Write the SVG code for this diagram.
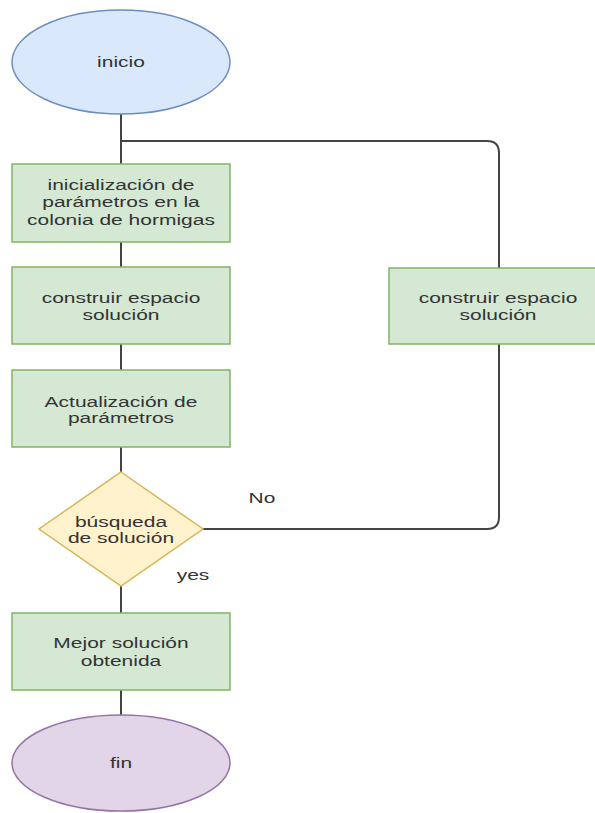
<svg xmlns="http://www.w3.org/2000/svg" width="595" height="813" viewBox="0 0 595 813">
<style>
.t{font-family:"Liberation Sans",Arial,sans-serif;font-size:15px;fill:#333;text-anchor:middle}
.box{fill:#d5e8d4;stroke:#82b366;stroke-width:1.5}
.c{fill:none;stroke:#444;stroke-width:2}
</style>
<rect width="595" height="813" fill="#fff"/>
<g id="connectors">
<path class="c" d="M121 113V164M121 242V267M121 344V370M121 447V472M121 585V613M121 690V715"/>
<path class="c" d="M121 141H487Q499 141 499 153V268"/>
<path class="c" d="M499 344V517Q499 529 487 529H203"/>
<text class="t" transform="translate(262 503) scale(1.4 1)">No</text>
<text class="t" transform="translate(193 580) scale(1.4 1)">yes</text>
</g>
<g id="inicio">
<ellipse cx="121" cy="62" rx="109" ry="52" fill="#dae8fc" stroke="#6c8ebf" stroke-width="1.5"/>
<text class="t" transform="translate(121 67) scale(1.4 1)">inicio</text>
</g>
<g id="init">
<rect class="box" x="12" y="164" width="218" height="78"/>
<text class="t" transform="translate(121 190) scale(1.4 1)">inicialización de</text>
<text class="t" transform="translate(121 207) scale(1.4 1)">parámetros en la</text>
<text class="t" transform="translate(121 225) scale(1.4 1)">colonia de hormigas</text>
</g>
<g id="construir1">
<rect class="box" x="12" y="267" width="218" height="77"/>
<text class="t" transform="translate(121 303) scale(1.4 1)">construir espacio</text>
<text class="t" transform="translate(121 320) scale(1.4 1)">solución</text>
</g>
<g id="actualizacion">
<rect class="box" x="12" y="370" width="218" height="77"/>
<text class="t" transform="translate(121 407) scale(1.4 1)">Actualización de</text>
<text class="t" transform="translate(121 423) scale(1.4 1)">parámetros</text>
</g>
<g id="busqueda">
<polygon points="121,472 203,529 121,586 39,529" fill="#fff2cc" stroke="#d6b656" stroke-width="1.5"/>
<text class="t" transform="translate(121 527) scale(1.4 1)">búsqueda</text>
<text class="t" transform="translate(121 543) scale(1.4 1)">de solución</text>
</g>
<g id="construir2">
<rect class="box" x="389" y="268" width="218" height="76"/>
<text class="t" transform="translate(498 303) scale(1.4 1)">construir espacio</text>
<text class="t" transform="translate(498 320) scale(1.4 1)">solución</text>
</g>
<g id="mejor">
<rect class="box" x="12" y="613" width="218" height="77"/>
<text class="t" transform="translate(121 648) scale(1.4 1)">Mejor solución</text>
<text class="t" transform="translate(121 666) scale(1.4 1)">obtenida</text>
</g>
<g id="fin">
<ellipse cx="121" cy="763" rx="109" ry="48" fill="#e1d5e7" stroke="#9673a6" stroke-width="1.5"/>
<text class="t" transform="translate(121 768) scale(1.4 1)">fin</text>
</g>
</svg>
